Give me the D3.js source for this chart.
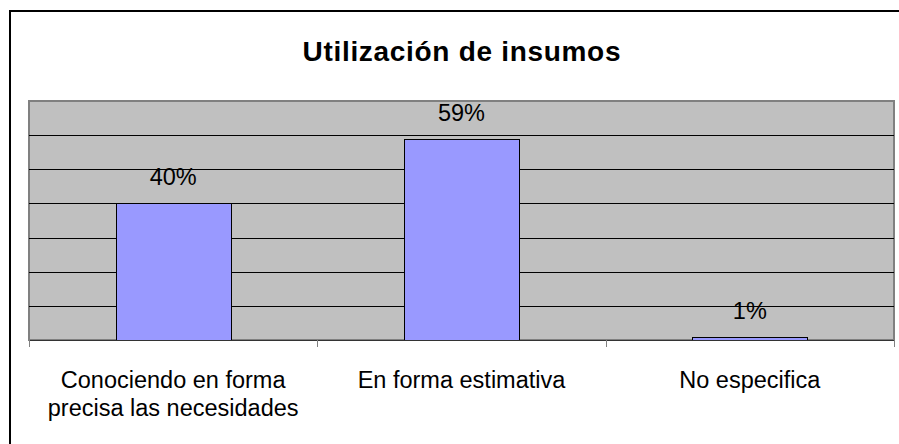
<!DOCTYPE html>
<html>
<head>
<meta charset="utf-8">
<script src="https://cdn.jsdelivr.net/npm/d3@7"></script>
<style>
  body { margin: 0; background: #fff; }
  text { font-family: "Liberation Sans", Arial, sans-serif; fill: #000; }
</style>
</head>
<body>
<svg id="chart"></svg>
<script>
const title = "Utilización de insumos";
const categories = ["Conociendo en forma\nprecisa las necesidades", "En forma estimativa", "No especifica"];
const values = [0.40, 0.59, 0.01];
const valueLabels = ["40%", "59%", "1%"];
const gridTicks = [0.1, 0.2, 0.3, 0.4, 0.5, 0.6];
const yMax = 0.7;

let svg = d3.select("#chart"),
  W = 899,
  H = 444,
  plot = { left: 29, right: 894, top: 101, bottom: 340 };

svg.attr("width", W).attr("height", H);

// outer frame (only left and top edges visible in the crop)
svg.append("rect")
  .attr("x", 10).attr("y", 11)
  .attr("width", 1000).attr("height", 1000)
  .attr("fill", "none").attr("stroke", "#000").attr("stroke-width", 2);

svg.append("text")
  .attr("x", (plot.left + plot.right) / 2)
  .attr("y", 61)
  .attr("text-anchor", "middle")
  .attr("font-size", "28px")
  .attr("font-weight", "bold")
  .attr("textLength", 318)
  .attr("lengthAdjust", "spacing")
  .text(title);

let xScale = d3.scaleBand()
  .domain(categories)
  .range([plot.left, plot.right])
  .paddingInner(0.6)
  .paddingOuter(0.3);

let yScale = d3.scaleLinear().domain([0, yMax]).range([plot.bottom, plot.top]);

// plot background
svg.append("rect")
  .attr("x", plot.left).attr("y", plot.top)
  .attr("width", plot.right - plot.left).attr("height", plot.bottom - plot.top)
  .attr("fill", "#c0c0c0").attr("stroke", "#808080").attr("stroke-width", 2);

svg.append("g")
  .selectAll("line")
  .data(gridTicks)
  .enter()
  .append("line")
  .attr("x1", plot.left).attr("x2", plot.right)
  .attr("y1", (d) => Math.round(yScale(d)) + 0.5)
  .attr("y2", (d) => Math.round(yScale(d)) + 0.5)
  .attr("stroke", "#000").attr("stroke-width", 1);

// bars
svg.selectAll(".bar")
  .data(values)
  .enter()
  .append("rect")
  .attr("class", "bar")
  .attr("x", (d, i) => Math.round(xScale(categories[i])) + 0.5)
  .attr("y", (d) => Math.round(yScale(d)) + 0.5)
  .attr("width", Math.round(xScale.bandwidth()))
  .attr("height", (d) => Math.round(plot.bottom - yScale(d)))
  .attr("fill", "#9999ff")
  .attr("stroke", "#000")
  .attr("stroke-width", 1);

svg.selectAll(".val")
  .data(values)
  .enter()
  .append("text")
  .attr("class", "val")
  .attr("x", (d, i) => xScale(categories[i]) + xScale.bandwidth() / 2)
  .attr("y", (d) => yScale(d) - 18)
  .attr("text-anchor", "middle")
  .attr("font-size", "23.5px")
  .text((d, i) => valueLabels[i]);

// x axis line and ticks between categories
svg.append("line")
  .attr("x1", plot.left).attr("x2", plot.right)
  .attr("y1", plot.bottom + 0.5).attr("y2", plot.bottom + 0.5)
  .attr("stroke", "#333").attr("stroke-width", 1);

let bounds = [plot.left].concat(categories.map((c) => xScale(c) + xScale.bandwidth() + xScale.step() * xScale.paddingInner() / 2));
bounds[bounds.length - 1] = plot.right;
svg.append("g")
  .selectAll("line")
  .data(bounds)
  .enter()
  .append("line")
  .attr("x1", (d) => Math.round(d) + 0.5).attr("x2", (d) => Math.round(d) + 0.5)
  .attr("y1", plot.bottom).attr("y2", plot.bottom + 7)
  .attr("stroke", "#808080").attr("stroke-width", 1);

// category labels
svg.selectAll(".cat")
  .data(categories)
  .enter()
  .append("text")
  .attr("class", "cat")
  .attr("text-anchor", "middle")
  .attr("font-size", "23.5px")
  .attr("y", 388)
  .each(function (d) {
    let cx = xScale(d) + xScale.bandwidth() / 2;
    d.split("\n").forEach((line, k) => {
      d3.select(this).append("tspan")
        .attr("x", cx)
        .attr("dy", k === 0 ? 0 : 28)
        .text(line);
    });
  });
</script>
</body>
</html>
